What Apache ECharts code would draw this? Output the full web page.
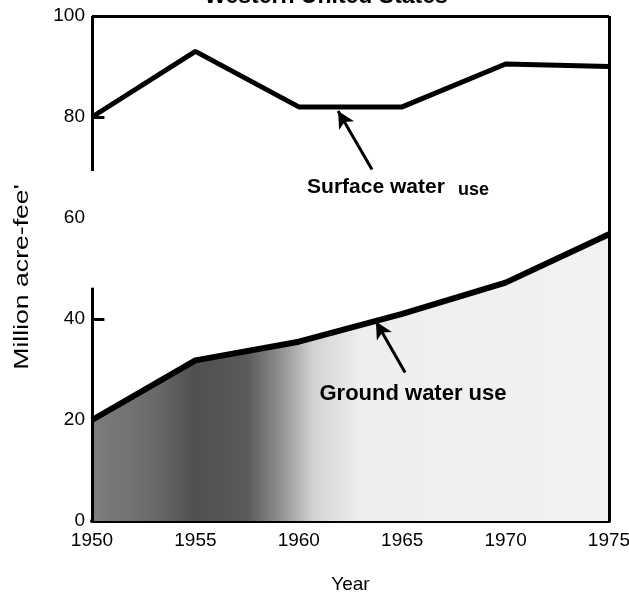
<!DOCTYPE html>
<html><head><meta charset="utf-8">
<script src="https://cdn.jsdelivr.net/npm/echarts@6/dist/echarts.min.js"></script>
<style>html,body{margin:0;padding:0;background:#fff}#c{width:629px;height:592px}</style>
</head><body><div id="c"></div>
<script>
const years = [1950, 1955, 1960, 1965, 1970, 1975];
const surfaceWater = [80, 93, 82, 82, 90.5, 90];
const groundWater = [20, 31.8, 35.5, 41, 47.2, 56.8];
const xTickLabels = ['1950', '1955', '1960', '1965', '1970', '1975'];
const yTickLabels = ['0', '20', '40', '60', '80', '100'];
const titleText = 'Western United States';
const yName = "Million acre-fee'";
const xName = 'Year';

const FONT = '"Liberation Sans", Arial, Helvetica, sans-serif';
const chart = echarts.init(document.getElementById('c'), null, {renderer: 'canvas'});

const pairs = (ys) => years.map((y, i) => [y, ys[i]]);
const seg = (a, b) => [{coord: a}, {coord: b}];

chart.setOption({
  animation: false,
  backgroundColor: '#fff',
  title: {
    text: titleText, left: 321, top: -20, textAlign: 'center',
    textStyle: {fontFamily: FONT, fontSize: 23, fontWeight: 'bold', color: '#000'}
  },
  grid: {left: 92, right: 20, top: 16, bottom: 71, containLabel: false, outerBoundsMode: 'none'},
  xAxis: {
    type: 'value', min: 1950, max: 1975, interval: 5,
    name: xName, nameLocation: 'middle', nameGap: 54,
    nameTextStyle: {fontFamily: FONT, fontSize: 19, color: '#000'},
    axisLine: {show: true, onZero: false, lineStyle: {color: '#000', width: 4}},
    axisTick: {show: true, inside: true, length: 14, lineStyle: {color: '#000', width: 3}},
    splitLine: {show: false},
    axisLabel: {fontFamily: FONT, fontSize: 19, color: '#000', margin: 10,
      formatter: (v) => xTickLabels[years.indexOf(v)] || ''}
  },
  yAxis: {
    type: 'value', min: 0, max: 100, interval: 20,
    axisLine: {show: false}, axisTick: {show: false}, splitLine: {show: false},
    axisLabel: {fontFamily: FONT, fontSize: 19, color: '#000', margin: 7,
      formatter: (v) => yTickLabels[v / 20] || ''}
  },
  series: [
    {
      type: 'line', data: pairs(groundWater), symbol: 'none', z: 3,
      lineStyle: {color: '#000', width: 6},
      areaStyle: {
        origin: 'start',
        color: new echarts.graphic.LinearGradient(0, 0, 1, 0, [
          {offset: 0, color: '#7e7e7e'},
          {offset: 0.12, color: '#6a6a6a'},
          {offset: 0.2, color: '#505050'},
          {offset: 0.3, color: '#5a5a5a'},
          {offset: 0.36, color: '#8c8c8c'},
          {offset: 0.43, color: '#d4d4d4'},
          {offset: 0.52, color: '#eeeeee'},
          {offset: 1, color: '#f2f2f2'}
        ]), opacity: 1
      },
      markLine: {
        silent: true, animation: false, label: {show: false},
        symbol: ['none', 'arrow'], symbolSize: [13, 17],
        lineStyle: {color: '#000', width: 3, type: 'solid'},
        data: [seg([1965.14, 29.4], [1963.73, 39.5])]
      }
    },
    {
      type: 'line', data: pairs(surfaceWater), symbol: 'none', z: 3,
      lineStyle: {color: '#000', width: 5},
      markLine: {
        silent: true, animation: false, label: {show: false},
        symbol: ['none', 'arrow'], symbolSize: [13, 17],
        lineStyle: {color: '#000', width: 3, type: 'solid'},
        data: [seg([1963.54, 69.6], [1961.9, 81.2])]
      }
    },
    {
      type: 'line', data: [], symbol: 'none',
      markLine: {
        silent: true, animation: false, label: {show: false}, symbol: ['none', 'none'],
        lineStyle: {color: '#000', width: 3, type: 'solid'},
        data: [
          seg([1950, 100], [1975, 100]),
          seg([1975, 100], [1975, 0]),
          seg([1950, 100], [1950, 69.3]),
          seg([1950, 46.2], [1950, 0]),
          seg([1950, 40], [1950.6, 40]),
          seg([1950, 80], [1950.6, 80])
        ]
      }
    }
  ]
});

function addTexts() {
  const p1 = chart.convertToPixel({gridIndex: 0}, [1960.4, 66.1]);
  const p2 = chart.convertToPixel({gridIndex: 0}, [1967.7, 65.5]);
  const p3 = chart.convertToPixel({gridIndex: 0}, [1961.0, 25.2]);
  const st = (x, y, text, size) => ({
    type: 'text', x: x, y: y, z: 100,
    style: {text: text, fill: '#000', font: 'bold ' + size + 'px ' + FONT, verticalAlign: 'middle'}
  });
  chart.setOption({graphic: [
    st(p1[0], p1[1], 'Surface water', 21),
    st(p2[0], p2[1], 'use', 18),
    st(p3[0], p3[1], 'Ground water use', 22),
    {
      type: 'text', x: 22, y: 277, rotation: Math.PI / 2, scaleX: 1.33, z: 100,
      style: {text: yName, fill: '#000', font: '20px ' + FONT, align: 'center', verticalAlign: 'middle'}
    }
  ]});
}
addTexts();
</script></body></html>
